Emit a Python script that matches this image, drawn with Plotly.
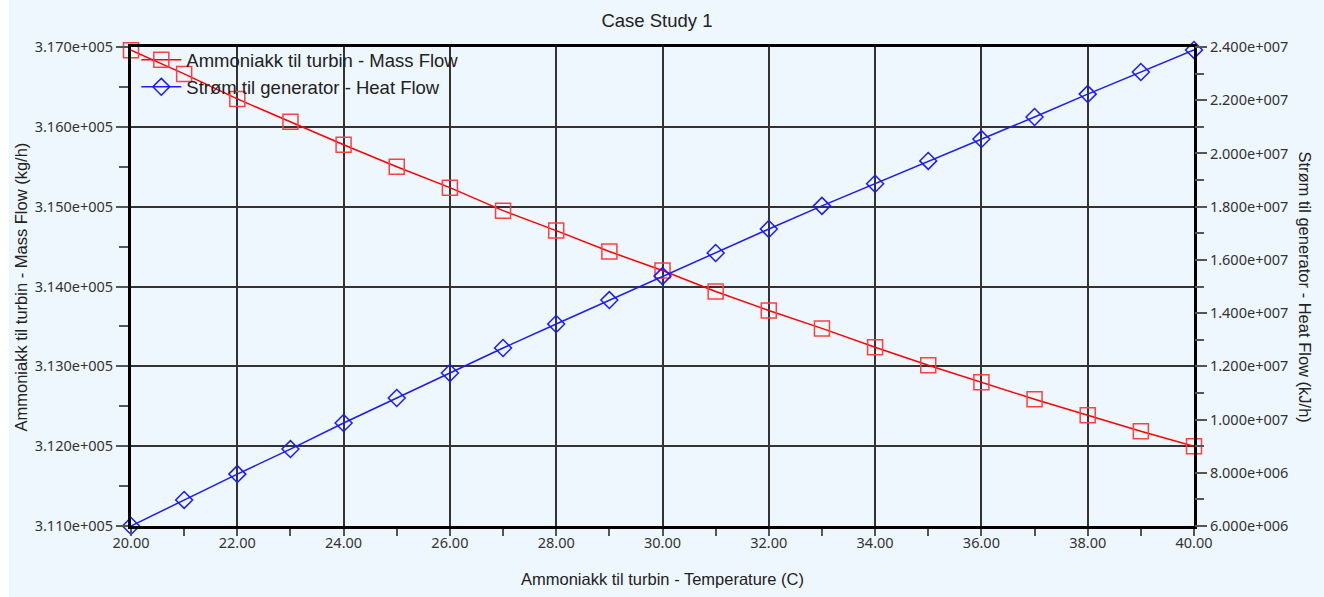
import plotly.graph_objects as go

temperature = [20, 21, 22, 23, 24, 25, 26, 27, 28, 29, 30, 31, 32, 33, 34, 35, 36, 37, 38, 39, 40]
mass_flow = [316960, 316663, 316350, 316063, 315775, 315500, 315238, 314950, 314700, 314438,
             314200, 313938, 313700, 313475, 313238, 313013, 312800, 312588, 312388, 312188, 312000]
heat_flow = [6.00e6, 6.98e6, 7.95e6, 8.89e6, 9.87e6, 1.081e7, 1.175e7, 1.269e7, 1.359e7, 1.449e7,
             1.539e7, 1.626e7, 1.716e7, 1.803e7, 1.886e7, 1.972e7, 2.054e7, 2.137e7, 2.223e7, 2.306e7, 2.389e7]

x_ticks = [20, 22, 24, 26, 28, 30, 32, 34, 36, 38, 40]
x_minor = [21, 23, 25, 27, 29, 31, 33, 35, 37, 39]
y1_ticks = [311000, 312000, 313000, 314000, 315000, 316000, 317000]
y1_text = ["3.110e+005", "3.120e+005", "3.130e+005", "3.140e+005", "3.150e+005", "3.160e+005", "3.170e+005"]
y1_minor = [311500, 312500, 313500, 314500, 315500, 316500]
y2_ticks = [6e6, 8e6, 1e7, 1.2e7, 1.4e7, 1.6e7, 1.8e7, 2.0e7, 2.2e7, 2.4e7]
y2_text = ["6.000e+006", "8.000e+006", "1.000e+007", "1.200e+007", "1.400e+007",
           "1.600e+007", "1.800e+007", "2.000e+007", "2.200e+007", "2.400e+007"]
y2_minor = [7e6, 9e6, 1.1e7, 1.3e7, 1.5e7, 1.7e7, 1.9e7, 2.1e7, 2.3e7]

tick_font = dict(family="Noto Sans, Open Sans, sans-serif", size=14.5, color="#333333")
text_font = "Liberation Sans, Arial, sans-serif"

fig = go.Figure()
fig.add_trace(go.Scatter(
    x=temperature, y=mass_flow, name="Ammoniakk til turbin - Mass Flow",
    mode="lines+markers", line=dict(color="#FF0000", width=1.5),
    marker=dict(symbol="square-open", size=15, color="#FF4040", line=dict(width=1.5)),
    cliponaxis=False,
))
fig.add_trace(go.Scatter(
    x=temperature, y=heat_flow, name="Strøm til generator - Heat Flow", yaxis="y2",
    mode="lines+markers", line=dict(color="#1A1AFF", width=1.5),
    marker=dict(symbol="diamond-open", size=13, color="#1A1AFF", line=dict(width=1.5)),
    cliponaxis=False,
))

fig.update_layout(
    width=1324, height=597,
    paper_bgcolor="white", plot_bgcolor="#EEF6FE",
    margin=dict(l=131, r=130, t=47, b=71),
    title=dict(text="Case Study 1", x=0.4962, xanchor="center", y=0.966, yanchor="middle",
               font=dict(family=text_font, size=18.5, color="#222222")),
    showlegend=True,
    legend=dict(x=0.005, y=1.012, xanchor="left", yanchor="top", bgcolor="rgba(0,0,0,0)",
                font=dict(family=text_font, size=18.5, color="#222222"),
                itemwidth=40, tracegroupgap=0),
    xaxis=dict(
        range=[20, 40], tickmode="array", tickvals=x_ticks,
        ticktext=[f"{v:.2f}" for v in x_ticks],
        ticks="outside", ticklen=7, tickcolor="#555555", tickwidth=1.5, tickfont=tick_font,
        ticklabelstandoff=-5,
        showgrid=True, gridcolor="#333333", gridwidth=1.5,
        showline=True, linecolor="black", linewidth=3, mirror=True, zeroline=False,
        minor=dict(tickmode="array", tickvals=x_minor, ticks="outside", ticklen=7,
                   tickcolor="#555555", tickwidth=1.5, showgrid=False),
    ),
    yaxis=dict(
        range=[311000, 317000], tickmode="array", tickvals=y1_ticks, ticktext=y1_text,
        ticks="outside", ticklen=12, tickcolor="#555555", tickwidth=1.5, tickfont=tick_font,
        showgrid=True, gridcolor="#333333", gridwidth=1.5,
        showline=True, linecolor="black", linewidth=3, mirror=True, zeroline=False,
        minor=dict(tickmode="array", tickvals=y1_minor, ticks="outside", ticklen=9,
                   tickcolor="#555555", tickwidth=1.5, showgrid=False),
    ),
    yaxis2=dict(
        range=[6e6, 2.4e7], overlaying="y", side="right", anchor="x",
        tickmode="array", tickvals=y2_ticks, ticktext=y2_text,
        ticks="outside", ticklen=12, tickcolor="#555555", tickwidth=1.5, tickfont=tick_font,
        showgrid=False, showline=False, zeroline=False,
        minor=dict(tickmode="array", tickvals=y2_minor, ticks="outside", ticklen=9,
                   tickcolor="#555555", tickwidth=1.5, showgrid=False),
    ),
    shapes=[dict(type="rect", xref="paper", yref="paper", x0=-0.1148, x1=1.13, y0=-0.16, y1=1.0992,
                 fillcolor="#EEF6FE", line=dict(width=0), layer="below")],
    annotations=[
        dict(text="Ammoniakk til turbin - Temperature (C)", xref="paper", yref="paper",
             x=0.5, y=-0.111, xanchor="center", yanchor="middle", showarrow=False,
             font=dict(family=text_font, size=16.5, color="#222222")),
        dict(text="Ammoniakk til turbin - Mass Flow (kg/h)", xref="paper", yref="paper",
             x=-0.1035, y=0.5, xanchor="center", yanchor="middle", textangle=-90, showarrow=False,
             font=dict(family=text_font, size=16.5, color="#222222")),
        dict(text="Strøm til generator - Heat Flow (kJ/h)", xref="paper", yref="paper",
             x=1.1045, y=0.5, xanchor="center", yanchor="middle", textangle=90, showarrow=False,
             font=dict(family=text_font, size=16.5, color="#222222")),
    ],
)

fig.write_html("out.html")
